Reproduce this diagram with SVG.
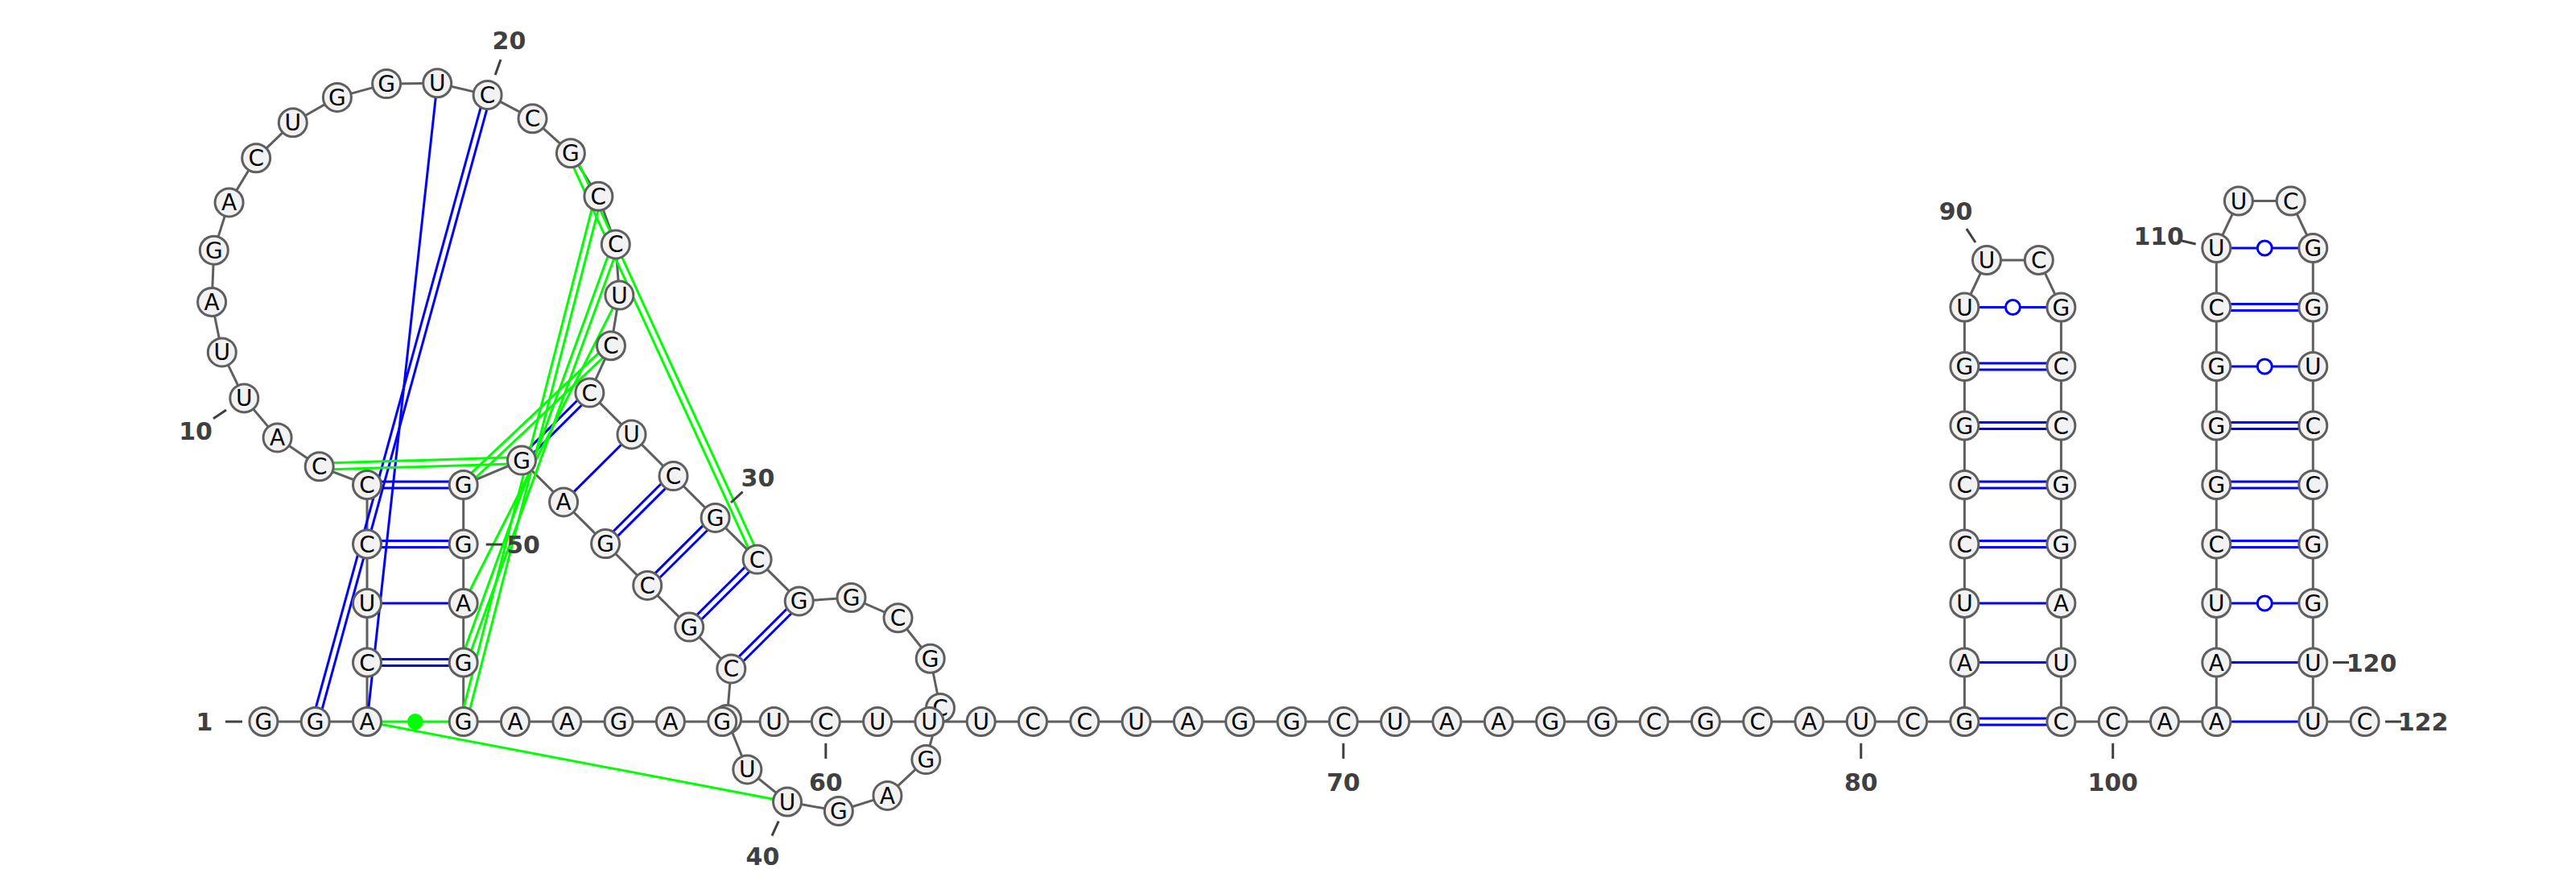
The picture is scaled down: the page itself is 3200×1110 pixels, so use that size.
<svg xmlns="http://www.w3.org/2000/svg" width="3200" height="1110" viewBox="0 0 3200 1110">
<style>
.bb{fill:none;stroke:#5f5f5f;stroke-width:3;stroke-linejoin:round}
.n circle{fill:#f2f2f2;stroke:#5f5f5f;stroke-width:3}
.n text{font-family:"DejaVu Sans",sans-serif;font-size:28px;text-anchor:middle;fill:#000}
.bp{stroke:#0000ff;stroke-width:3;fill:none}
.gp{stroke:#00ff00;stroke-width:3;fill:none}
.wb{fill:#ffffff;stroke:#0000ff;stroke-width:3}
.lbl{font-family:"DejaVu Sans",sans-serif;font-weight:bold;font-size:30px;fill:#404040;text-anchor:middle}
.tick{stroke:#404040;stroke-width:3}
</style>
<rect width="3200" height="1110" fill="#ffffff"/>
<g id="connectors">
<polyline class="bb" points="327.4,896 391.7,896 456,896 456,822.5 456,749 456,675.5 456,602 396.7,579.3 344.6,543.4 303.3,494.4 275.8,437.4 263.1,375 265.8,310.7 284.6,251.4 318.2,196.3 363.8,152.3 418.9,120.9 480.1,104.1 543.2,103.3 605.6,117.9 661.5,147.3 708.9,190.2 743.4,243.8 764.8,303.4 769.4,366.6 759,429.3 732.4,487.6 784.5,539.4 836.5,591.1 888.6,642.9 940.6,694.6 992.7,746.4 1057.5,742 1115.5,767.3 1155.7,817.7 1168,879 1150.3,943.1 1102.4,987.9 1041.8,1007 978,995.5 928.3,955.4 903,893 908.3,830.4 856.2,778.6 804.2,726.9 752.1,675.1 700.1,623.4 648,571.6 575.7,602 575.7,675.5 575.7,749 575.7,822.5 575.7,896 640,896 704.3,896 768.6,896 832.9,896 897.2,896 961.5,896 1025.8,896 1090.1,896 1154.4,896 1218.7,896 1283,896 1347.3,896 1411.6,896 1475.9,896 1540.2,896 1604.5,896 1668.8,896 1733.1,896 1797.4,896 1861.7,896 1926,896 1990.3,896 2054.6,896 2118.9,896 2183.2,896 2247.5,896 2311.8,896 2376.1,896 2440.4,896 2440.4,822.5 2440.4,749 2440.4,675.5 2440.4,602 2440.4,528.5 2440.4,455 2440.4,381.5 2468,323 2532.8,323 2560.4,381.5 2560.4,455 2560.4,528.5 2560.4,602 2560.4,675.5 2560.4,749 2560.4,822.5 2560.4,896 2624.7,896 2689,896 2753.3,896 2753.3,822.5 2753.3,749 2753.3,675.5 2753.3,602 2753.3,528.5 2753.3,455 2753.3,381.5 2753.3,308 2780.9,249.5 2845.7,249.5 2873.3,308 2873.3,381.5 2873.3,455 2873.3,528.5 2873.3,602 2873.3,675.5 2873.3,749 2873.3,822.5 2873.3,896 2937.6,896"/>
<!-- blue pairs -->
<line class="bp" x1="395.56" y1="897.06" x2="609.46" y2="118.96"/>
<line class="bp" x1="387.84" y1="894.94" x2="601.74" y2="116.84"/>
<line class="bp" x1="456" y1="896" x2="543.2" y2="103.3"/>
<line class="bp" x1="456" y1="818.5" x2="575.7" y2="818.5"/>
<line class="bp" x1="456" y1="826.5" x2="575.7" y2="826.5"/>
<line class="bp" x1="456" y1="749" x2="575.7" y2="749"/>
<line class="bp" x1="456" y1="671.5" x2="575.7" y2="671.5"/>
<line class="bp" x1="456" y1="679.5" x2="575.7" y2="679.5"/>
<line class="bp" x1="456" y1="598" x2="575.7" y2="598"/>
<line class="bp" x1="456" y1="606" x2="575.7" y2="606"/>
<line class="bp" x1="729.58" y1="484.77" x2="645.18" y2="568.77"/>
<line class="bp" x1="735.22" y1="490.43" x2="650.82" y2="574.43"/>
<line class="bp" x1="784.5" y1="539.4" x2="700.1" y2="623.4"/>
<line class="bp" x1="833.68" y1="588.27" x2="749.28" y2="672.27"/>
<line class="bp" x1="839.32" y1="593.93" x2="754.92" y2="677.93"/>
<line class="bp" x1="885.78" y1="640.07" x2="801.38" y2="724.07"/>
<line class="bp" x1="891.42" y1="645.73" x2="807.02" y2="729.73"/>
<line class="bp" x1="937.78" y1="691.77" x2="853.38" y2="775.77"/>
<line class="bp" x1="943.42" y1="697.43" x2="859.02" y2="781.43"/>
<line class="bp" x1="989.88" y1="743.57" x2="905.48" y2="827.57"/>
<line class="bp" x1="995.52" y1="749.23" x2="911.12" y2="833.23"/>
<!-- hairpin 1 -->
<line class="bp" x1="2440.4" y1="892" x2="2560.4" y2="892"/>
<line class="bp" x1="2440.4" y1="900" x2="2560.4" y2="900"/>
<line class="bp" x1="2440.4" y1="822.5" x2="2560.4" y2="822.5"/>
<line class="bp" x1="2440.4" y1="749" x2="2560.4" y2="749"/>
<line class="bp" x1="2440.4" y1="671.5" x2="2560.4" y2="671.5"/>
<line class="bp" x1="2440.4" y1="679.5" x2="2560.4" y2="679.5"/>
<line class="bp" x1="2440.4" y1="598" x2="2560.4" y2="598"/>
<line class="bp" x1="2440.4" y1="606" x2="2560.4" y2="606"/>
<line class="bp" x1="2440.4" y1="524.5" x2="2560.4" y2="524.5"/>
<line class="bp" x1="2440.4" y1="532.5" x2="2560.4" y2="532.5"/>
<line class="bp" x1="2440.4" y1="451" x2="2560.4" y2="451"/>
<line class="bp" x1="2440.4" y1="459" x2="2560.4" y2="459"/>
<line class="bp" x1="2440.4" y1="381.5" x2="2560.4" y2="381.5"/>
<circle class="wb" cx="2500.4" cy="381.5" r="9"/>
<!-- hairpin 2 -->
<line class="bp" x1="2753.3" y1="896" x2="2873.3" y2="896"/>
<line class="bp" x1="2753.3" y1="822.5" x2="2873.3" y2="822.5"/>
<line class="bp" x1="2753.3" y1="749" x2="2873.3" y2="749"/>
<circle class="wb" cx="2813.3" cy="749" r="9"/>
<line class="bp" x1="2753.3" y1="671.5" x2="2873.3" y2="671.5"/>
<line class="bp" x1="2753.3" y1="679.5" x2="2873.3" y2="679.5"/>
<line class="bp" x1="2753.3" y1="598" x2="2873.3" y2="598"/>
<line class="bp" x1="2753.3" y1="606" x2="2873.3" y2="606"/>
<line class="bp" x1="2753.3" y1="524.5" x2="2873.3" y2="524.5"/>
<line class="bp" x1="2753.3" y1="532.5" x2="2873.3" y2="532.5"/>
<line class="bp" x1="2753.3" y1="455" x2="2873.3" y2="455"/>
<circle class="wb" cx="2813.3" cy="455" r="9"/>
<line class="bp" x1="2753.3" y1="377.5" x2="2873.3" y2="377.5"/>
<line class="bp" x1="2753.3" y1="385.5" x2="2873.3" y2="385.5"/>
<line class="bp" x1="2753.3" y1="308" x2="2873.3" y2="308"/>
<circle class="wb" cx="2813.3" cy="308" r="9"/>
<!-- green interactions -->
<line class="gp" x1="456" y1="896" x2="978" y2="995.5"/>
<line class="gp" x1="456" y1="896" x2="575.7" y2="896"/>
<circle cx="515.85" cy="896" r="10" fill="#00ff00"/>
<line class="gp" x1="396.58" y1="575.3" x2="647.88" y2="567.6"/>
<line class="gp" x1="396.82" y1="583.3" x2="648.12" y2="575.6"/>
<line class="gp" x1="705.27" y1="191.87" x2="936.97" y2="696.27"/>
<line class="gp" x1="712.54" y1="188.53" x2="944.24" y2="692.93"/>
<line class="gp" x1="739.53" y1="242.8" x2="571.83" y2="895"/>
<line class="gp" x1="747.27" y1="244.8" x2="579.57" y2="897"/>
<line class="gp" x1="761.04" y1="302.03" x2="571.94" y2="821.13"/>
<line class="gp" x1="768.56" y1="304.77" x2="579.46" y2="823.87"/>
<line class="gp" x1="769.4" y1="366.6" x2="575.7" y2="749"/>
<line class="gp" x1="756.26" y1="426.39" x2="572.96" y2="599.09"/>
<line class="gp" x1="761.74" y1="432.21" x2="578.44" y2="604.91"/>
</g>
<g id="nodes">
<g id="n1" class="n"><circle cx="327.4" cy="896" r="17.5"/><text x="327.4" y="906">G</text></g>
<g id="n2" class="n"><circle cx="391.7" cy="896" r="17.5"/><text x="391.7" y="906">G</text></g>
<g id="n3" class="n"><circle cx="456" cy="896" r="17.5"/><text x="456" y="906">A</text></g>
<g id="n4" class="n"><circle cx="456" cy="822.5" r="17.5"/><text x="456" y="832.5">C</text></g>
<g id="n5" class="n"><circle cx="456" cy="749" r="17.5"/><text x="456" y="759">U</text></g>
<g id="n6" class="n"><circle cx="456" cy="675.5" r="17.5"/><text x="456" y="685.5">C</text></g>
<g id="n7" class="n"><circle cx="456" cy="602" r="17.5"/><text x="456" y="612">C</text></g>
<g id="n8" class="n"><circle cx="396.7" cy="579.3" r="17.5"/><text x="396.7" y="589.3">C</text></g>
<g id="n9" class="n"><circle cx="344.6" cy="543.4" r="17.5"/><text x="344.6" y="553.4">A</text></g>
<g id="n10" class="n"><circle cx="303.3" cy="494.4" r="17.5"/><text x="303.3" y="504.4">U</text></g>
<g id="n11" class="n"><circle cx="275.8" cy="437.4" r="17.5"/><text x="275.8" y="447.4">U</text></g>
<g id="n12" class="n"><circle cx="263.1" cy="375" r="17.5"/><text x="263.1" y="385">A</text></g>
<g id="n13" class="n"><circle cx="265.8" cy="310.7" r="17.5"/><text x="265.8" y="320.7">G</text></g>
<g id="n14" class="n"><circle cx="284.6" cy="251.4" r="17.5"/><text x="284.6" y="261.4">A</text></g>
<g id="n15" class="n"><circle cx="318.2" cy="196.3" r="17.5"/><text x="318.2" y="206.3">C</text></g>
<g id="n16" class="n"><circle cx="363.8" cy="152.3" r="17.5"/><text x="363.8" y="162.3">U</text></g>
<g id="n17" class="n"><circle cx="418.9" cy="120.9" r="17.5"/><text x="418.9" y="130.9">G</text></g>
<g id="n18" class="n"><circle cx="480.1" cy="104.1" r="17.5"/><text x="480.1" y="114.1">G</text></g>
<g id="n19" class="n"><circle cx="543.2" cy="103.3" r="17.5"/><text x="543.2" y="113.3">U</text></g>
<g id="n20" class="n"><circle cx="605.6" cy="117.9" r="17.5"/><text x="605.6" y="127.9">C</text></g>
<g id="n21" class="n"><circle cx="661.5" cy="147.3" r="17.5"/><text x="661.5" y="157.3">C</text></g>
<g id="n22" class="n"><circle cx="708.9" cy="190.2" r="17.5"/><text x="708.9" y="200.2">G</text></g>
<g id="n23" class="n"><circle cx="743.4" cy="243.8" r="17.5"/><text x="743.4" y="253.8">C</text></g>
<g id="n24" class="n"><circle cx="764.8" cy="303.4" r="17.5"/><text x="764.8" y="313.4">C</text></g>
<g id="n25" class="n"><circle cx="769.4" cy="366.6" r="17.5"/><text x="769.4" y="376.6">U</text></g>
<g id="n26" class="n"><circle cx="759" cy="429.3" r="17.5"/><text x="759" y="439.3">C</text></g>
<g id="n27" class="n"><circle cx="732.4" cy="487.6" r="17.5"/><text x="732.4" y="497.6">C</text></g>
<g id="n28" class="n"><circle cx="784.5" cy="539.4" r="17.5"/><text x="784.5" y="549.4">U</text></g>
<g id="n29" class="n"><circle cx="836.5" cy="591.1" r="17.5"/><text x="836.5" y="601.1">C</text></g>
<g id="n30" class="n"><circle cx="888.6" cy="642.9" r="17.5"/><text x="888.6" y="652.9">G</text></g>
<g id="n31" class="n"><circle cx="940.6" cy="694.6" r="17.5"/><text x="940.6" y="704.6">C</text></g>
<g id="n32" class="n"><circle cx="992.7" cy="746.4" r="17.5"/><text x="992.7" y="756.4">G</text></g>
<g id="n33" class="n"><circle cx="1057.5" cy="742" r="17.5"/><text x="1057.5" y="752">G</text></g>
<g id="n34" class="n"><circle cx="1115.5" cy="767.3" r="17.5"/><text x="1115.5" y="777.3">C</text></g>
<g id="n35" class="n"><circle cx="1155.7" cy="817.7" r="17.5"/><text x="1155.7" y="827.7">G</text></g>
<g id="n36" class="n"><circle cx="1168" cy="879" r="17.5"/><text x="1168" y="889">C</text></g>
<g id="n37" class="n"><circle cx="1150.3" cy="943.1" r="17.5"/><text x="1150.3" y="953.1">G</text></g>
<g id="n38" class="n"><circle cx="1102.4" cy="987.9" r="17.5"/><text x="1102.4" y="997.9">A</text></g>
<g id="n39" class="n"><circle cx="1041.8" cy="1007" r="17.5"/><text x="1041.8" y="1017">G</text></g>
<g id="n40" class="n"><circle cx="978" cy="995.5" r="17.5"/><text x="978" y="1005.5">U</text></g>
<g id="n41" class="n"><circle cx="928.3" cy="955.4" r="17.5"/><text x="928.3" y="965.4">U</text></g>
<g id="n42" class="n"><circle cx="903" cy="893" r="17.5"/><text x="903" y="903">G</text></g>
<g id="n43" class="n"><circle cx="908.3" cy="830.4" r="17.5"/><text x="908.3" y="840.4">C</text></g>
<g id="n44" class="n"><circle cx="856.2" cy="778.6" r="17.5"/><text x="856.2" y="788.6">G</text></g>
<g id="n45" class="n"><circle cx="804.2" cy="726.9" r="17.5"/><text x="804.2" y="736.9">C</text></g>
<g id="n46" class="n"><circle cx="752.1" cy="675.1" r="17.5"/><text x="752.1" y="685.1">G</text></g>
<g id="n47" class="n"><circle cx="700.1" cy="623.4" r="17.5"/><text x="700.1" y="633.4">A</text></g>
<g id="n48" class="n"><circle cx="648" cy="571.6" r="17.5"/><text x="648" y="581.6">G</text></g>
<g id="n49" class="n"><circle cx="575.7" cy="602" r="17.5"/><text x="575.7" y="612">G</text></g>
<g id="n50" class="n"><circle cx="575.7" cy="675.5" r="17.5"/><text x="575.7" y="685.5">G</text></g>
<g id="n51" class="n"><circle cx="575.7" cy="749" r="17.5"/><text x="575.7" y="759">A</text></g>
<g id="n52" class="n"><circle cx="575.7" cy="822.5" r="17.5"/><text x="575.7" y="832.5">G</text></g>
<g id="n53" class="n"><circle cx="575.7" cy="896" r="17.5"/><text x="575.7" y="906">G</text></g>
<g id="n54" class="n"><circle cx="640" cy="896" r="17.5"/><text x="640" y="906">A</text></g>
<g id="n55" class="n"><circle cx="704.3" cy="896" r="17.5"/><text x="704.3" y="906">A</text></g>
<g id="n56" class="n"><circle cx="768.6" cy="896" r="17.5"/><text x="768.6" y="906">G</text></g>
<g id="n57" class="n"><circle cx="832.9" cy="896" r="17.5"/><text x="832.9" y="906">A</text></g>
<g id="n58" class="n"><circle cx="897.2" cy="896" r="17.5"/><text x="897.2" y="906">G</text></g>
<g id="n59" class="n"><circle cx="961.5" cy="896" r="17.5"/><text x="961.5" y="906">U</text></g>
<g id="n60" class="n"><circle cx="1025.8" cy="896" r="17.5"/><text x="1025.8" y="906">C</text></g>
<g id="n61" class="n"><circle cx="1090.1" cy="896" r="17.5"/><text x="1090.1" y="906">U</text></g>
<g id="n62" class="n"><circle cx="1154.4" cy="896" r="17.5"/><text x="1154.4" y="906">U</text></g>
<g id="n63" class="n"><circle cx="1218.7" cy="896" r="17.5"/><text x="1218.7" y="906">U</text></g>
<g id="n64" class="n"><circle cx="1283" cy="896" r="17.5"/><text x="1283" y="906">C</text></g>
<g id="n65" class="n"><circle cx="1347.3" cy="896" r="17.5"/><text x="1347.3" y="906">C</text></g>
<g id="n66" class="n"><circle cx="1411.6" cy="896" r="17.5"/><text x="1411.6" y="906">U</text></g>
<g id="n67" class="n"><circle cx="1475.9" cy="896" r="17.5"/><text x="1475.9" y="906">A</text></g>
<g id="n68" class="n"><circle cx="1540.2" cy="896" r="17.5"/><text x="1540.2" y="906">G</text></g>
<g id="n69" class="n"><circle cx="1604.5" cy="896" r="17.5"/><text x="1604.5" y="906">G</text></g>
<g id="n70" class="n"><circle cx="1668.8" cy="896" r="17.5"/><text x="1668.8" y="906">C</text></g>
<g id="n71" class="n"><circle cx="1733.1" cy="896" r="17.5"/><text x="1733.1" y="906">U</text></g>
<g id="n72" class="n"><circle cx="1797.4" cy="896" r="17.5"/><text x="1797.4" y="906">A</text></g>
<g id="n73" class="n"><circle cx="1861.7" cy="896" r="17.5"/><text x="1861.7" y="906">A</text></g>
<g id="n74" class="n"><circle cx="1926" cy="896" r="17.5"/><text x="1926" y="906">G</text></g>
<g id="n75" class="n"><circle cx="1990.3" cy="896" r="17.5"/><text x="1990.3" y="906">G</text></g>
<g id="n76" class="n"><circle cx="2054.6" cy="896" r="17.5"/><text x="2054.6" y="906">C</text></g>
<g id="n77" class="n"><circle cx="2118.9" cy="896" r="17.5"/><text x="2118.9" y="906">G</text></g>
<g id="n78" class="n"><circle cx="2183.2" cy="896" r="17.5"/><text x="2183.2" y="906">C</text></g>
<g id="n79" class="n"><circle cx="2247.5" cy="896" r="17.5"/><text x="2247.5" y="906">A</text></g>
<g id="n80" class="n"><circle cx="2311.8" cy="896" r="17.5"/><text x="2311.8" y="906">U</text></g>
<g id="n81" class="n"><circle cx="2376.1" cy="896" r="17.5"/><text x="2376.1" y="906">C</text></g>
<g id="n82" class="n"><circle cx="2440.4" cy="896" r="17.5"/><text x="2440.4" y="906">G</text></g>
<g id="n83" class="n"><circle cx="2440.4" cy="822.5" r="17.5"/><text x="2440.4" y="832.5">A</text></g>
<g id="n84" class="n"><circle cx="2440.4" cy="749" r="17.5"/><text x="2440.4" y="759">U</text></g>
<g id="n85" class="n"><circle cx="2440.4" cy="675.5" r="17.5"/><text x="2440.4" y="685.5">C</text></g>
<g id="n86" class="n"><circle cx="2440.4" cy="602" r="17.5"/><text x="2440.4" y="612">C</text></g>
<g id="n87" class="n"><circle cx="2440.4" cy="528.5" r="17.5"/><text x="2440.4" y="538.5">G</text></g>
<g id="n88" class="n"><circle cx="2440.4" cy="455" r="17.5"/><text x="2440.4" y="465">G</text></g>
<g id="n89" class="n"><circle cx="2440.4" cy="381.5" r="17.5"/><text x="2440.4" y="391.5">U</text></g>
<g id="n90" class="n"><circle cx="2468" cy="323" r="17.5"/><text x="2468" y="333">U</text></g>
<g id="n91" class="n"><circle cx="2532.8" cy="323" r="17.5"/><text x="2532.8" y="333">C</text></g>
<g id="n92" class="n"><circle cx="2560.4" cy="381.5" r="17.5"/><text x="2560.4" y="391.5">G</text></g>
<g id="n93" class="n"><circle cx="2560.4" cy="455" r="17.5"/><text x="2560.4" y="465">C</text></g>
<g id="n94" class="n"><circle cx="2560.4" cy="528.5" r="17.5"/><text x="2560.4" y="538.5">C</text></g>
<g id="n95" class="n"><circle cx="2560.4" cy="602" r="17.5"/><text x="2560.4" y="612">G</text></g>
<g id="n96" class="n"><circle cx="2560.4" cy="675.5" r="17.5"/><text x="2560.4" y="685.5">G</text></g>
<g id="n97" class="n"><circle cx="2560.4" cy="749" r="17.5"/><text x="2560.4" y="759">A</text></g>
<g id="n98" class="n"><circle cx="2560.4" cy="822.5" r="17.5"/><text x="2560.4" y="832.5">U</text></g>
<g id="n99" class="n"><circle cx="2560.4" cy="896" r="17.5"/><text x="2560.4" y="906">C</text></g>
<g id="n100" class="n"><circle cx="2624.7" cy="896" r="17.5"/><text x="2624.7" y="906">C</text></g>
<g id="n101" class="n"><circle cx="2689" cy="896" r="17.5"/><text x="2689" y="906">A</text></g>
<g id="n102" class="n"><circle cx="2753.3" cy="896" r="17.5"/><text x="2753.3" y="906">A</text></g>
<g id="n103" class="n"><circle cx="2753.3" cy="822.5" r="17.5"/><text x="2753.3" y="832.5">A</text></g>
<g id="n104" class="n"><circle cx="2753.3" cy="749" r="17.5"/><text x="2753.3" y="759">U</text></g>
<g id="n105" class="n"><circle cx="2753.3" cy="675.5" r="17.5"/><text x="2753.3" y="685.5">C</text></g>
<g id="n106" class="n"><circle cx="2753.3" cy="602" r="17.5"/><text x="2753.3" y="612">G</text></g>
<g id="n107" class="n"><circle cx="2753.3" cy="528.5" r="17.5"/><text x="2753.3" y="538.5">G</text></g>
<g id="n108" class="n"><circle cx="2753.3" cy="455" r="17.5"/><text x="2753.3" y="465">G</text></g>
<g id="n109" class="n"><circle cx="2753.3" cy="381.5" r="17.5"/><text x="2753.3" y="391.5">C</text></g>
<g id="n110" class="n"><circle cx="2753.3" cy="308" r="17.5"/><text x="2753.3" y="318">U</text></g>
<g id="n111" class="n"><circle cx="2780.9" cy="249.5" r="17.5"/><text x="2780.9" y="259.5">U</text></g>
<g id="n112" class="n"><circle cx="2845.7" cy="249.5" r="17.5"/><text x="2845.7" y="259.5">C</text></g>
<g id="n113" class="n"><circle cx="2873.3" cy="308" r="17.5"/><text x="2873.3" y="318">G</text></g>
<g id="n114" class="n"><circle cx="2873.3" cy="381.5" r="17.5"/><text x="2873.3" y="391.5">G</text></g>
<g id="n115" class="n"><circle cx="2873.3" cy="455" r="17.5"/><text x="2873.3" y="465">U</text></g>
<g id="n116" class="n"><circle cx="2873.3" cy="528.5" r="17.5"/><text x="2873.3" y="538.5">C</text></g>
<g id="n117" class="n"><circle cx="2873.3" cy="602" r="17.5"/><text x="2873.3" y="612">C</text></g>
<g id="n118" class="n"><circle cx="2873.3" cy="675.5" r="17.5"/><text x="2873.3" y="685.5">G</text></g>
<g id="n119" class="n"><circle cx="2873.3" cy="749" r="17.5"/><text x="2873.3" y="759">G</text></g>
<g id="n120" class="n"><circle cx="2873.3" cy="822.5" r="17.5"/><text x="2873.3" y="832.5">U</text></g>
<g id="n121" class="n"><circle cx="2873.3" cy="896" r="17.5"/><text x="2873.3" y="906">U</text></g>
<g id="n122" class="n"><circle cx="2937.6" cy="896" r="17.5"/><text x="2937.6" y="906">C</text></g>
</g>
<g id="labels">
<line class="tick" x1="280" y1="896" x2="301" y2="896"/><text class="lbl" x="254" y="907">1</text>
<line class="tick" x1="265" y1="519.7" x2="281" y2="509"/><text class="lbl" x="243" y="546">10</text>
<line class="tick" x1="622" y1="74" x2="615.2" y2="93"/><text class="lbl" x="632.4" y="60.7">20</text>
<line class="tick" x1="922.6" y1="610.7" x2="908" y2="624"/><text class="lbl" x="941.4" y="603.9">30</text>
<line class="tick" x1="967.2" y1="1019.7" x2="959" y2="1037.6"/><text class="lbl" x="947.4" y="1073.5">40</text>
<line class="tick" x1="603.7" y1="676" x2="624" y2="676"/><text class="lbl" x="650" y="687">50</text>
<line class="tick" x1="1025.8" y1="922.8" x2="1025.8" y2="942"/><text class="lbl" x="1025.8" y="981.7">60</text>
<line class="tick" x1="1668.8" y1="922.8" x2="1668.8" y2="942"/><text class="lbl" x="1668.8" y="981.7">70</text>
<line class="tick" x1="2311.8" y1="922.8" x2="2311.8" y2="942"/><text class="lbl" x="2311.8" y="981.7">80</text>
<line class="tick" x1="2442.9" y1="284.2" x2="2454" y2="301"/><text class="lbl" x="2429.5" y="273.2">90</text>
<line class="tick" x1="2624.7" y1="922.8" x2="2624.7" y2="942"/><text class="lbl" x="2624.7" y="981.7">100</text>
<line class="tick" x1="2708.5" y1="298.5" x2="2727.7" y2="303"/><text class="lbl" x="2681.7" y="304.4">110</text>
<line class="tick" x1="2898" y1="822.5" x2="2918" y2="822.5"/><text class="lbl" x="2946" y="833.5">120</text>
<line class="tick" x1="2963" y1="896" x2="2983" y2="896"/><text class="lbl" x="3010" y="907">122</text>
</g>
</svg>
